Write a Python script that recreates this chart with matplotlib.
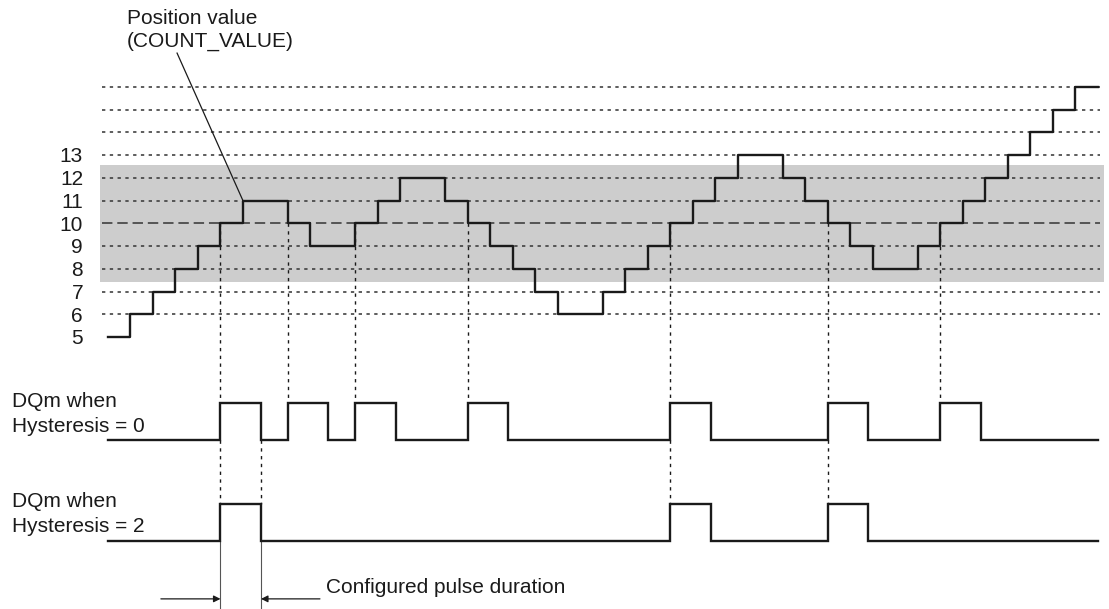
import numpy as np
import matplotlib
matplotlib.use("Agg")
from matplotlib import pyplot as plt

plt.rcParams["font.family"] = ["Liberation Sans", "DejaVu Sans"]
plt.rcParams["lines.scale_dashes"] = False

# position value (COUNT_VALUE) per time step
count_value = [5, 6, 7, 8, 9, 10, 11, 11, 10, 9, 9, 10, 11, 12, 12, 11,
               10, 9, 8, 7, 6, 6, 7, 8, 9, 10, 11, 12, 13, 13, 12, 11,
               10, 9, 8, 8, 9, 10, 11, 12, 13, 14, 15, 16]
level_labels = [5, 6, 7, 8, 9, 10, 11, 12, 13]
grid_levels = list(range(6, 17))
reference_value = 10
hyst_band = (7.45, 12.55)

# DQm pulses (start times) and configured pulse duration
pulses_hyst0 = [5, 8, 11, 16, 25, 32, 37]
pulses_hyst2 = [5, 25, 32]
pulse_duration = 1.8

t_end = len(count_value)
times = np.arange(t_end + 1)

# layout of the two output traces below the counter
dq0_low, dq0_high = 0.48, 2.11
dq2_low, dq2_high = -3.96, -2.33
dim_y = -6.5

fig = plt.figure(figsize=(11.09, 6.09), dpi=100)
ax = fig.add_axes([0, 0, 1, 1])
ax.set_xlim(-4.8, 44.49)
ax.set_ylim(-6.945, 19.824)
ax.axis("off")

ink = "#1a1a1a"
fs = 15
dot = (0, (2.4, 3.2))

# hysteresis band
ax.fill_between([-0.35, 44.25], hyst_band[0], hyst_band[1],
                color="#cdcdcd", lw=0, zorder=0)

# level grid
for lv in grid_levels:
    style = (0, (7.5, 3.5)) if lv == reference_value else dot
    ax.plot([-0.27, 44.1], [lv, lv], color="#3a3a3a", lw=1.15,
            linestyle=style, zorder=1)

for lv in level_labels:
    ax.text(-1.11, lv - 0.31, str(lv), ha="right", va="baseline",
            fontsize=fs, color=ink)

# counter staircase
ax.step(times, count_value + [count_value[-1]], where="post", color=ink,
        lw=1.7, zorder=3)

# comparison instants down to the first output trace
for t in pulses_hyst0:
    ax.plot([t, t], [reference_value, dq0_high], color=ink, lw=1.0,
            linestyle=dot, zorder=2)

# links between the two output traces
for t in pulses_hyst2:
    ax.plot([t, t], [dq0_low, dq2_high], color=ink, lw=1.0,
            linestyle=dot, zorder=2)
t0 = pulses_hyst2[0]
ax.plot([t0 + pulse_duration] * 2, [dq0_low, dq2_high], color=ink, lw=1.0,
        linestyle=dot, zorder=2)


def pulse_trace(starts, low, high):
    xs, ys = [0], [low]
    for s in starts:
        xs += [s, s, s + pulse_duration, s + pulse_duration]
        ys += [low, high, high, low]
    xs.append(t_end)
    ys.append(low)
    return xs, ys


for starts, lo, hi in [(pulses_hyst0, dq0_low, dq0_high),
                       (pulses_hyst2, dq2_low, dq2_high)]:
    xs, ys = pulse_trace(starts, lo, hi)
    ax.plot(xs, ys, color=ink, lw=1.7, solid_joinstyle="miter", zorder=3)

# pulse duration dimension
for t in [t0, t0 + pulse_duration]:
    ax.plot([t, t], [dq2_low, -7.0], color="#555555", lw=0.8, zorder=2)
ax.annotate("", xy=(t0, dim_y), xytext=(t0 - 2.65, dim_y),
            arrowprops=dict(arrowstyle="-|>", color=ink, lw=0.9,
                            mutation_scale=10, shrinkA=0, shrinkB=0))
ax.annotate("", xy=(t0 + pulse_duration, dim_y),
            xytext=(t0 + pulse_duration + 2.62, dim_y),
            arrowprops=dict(arrowstyle="-|>", color=ink, lw=0.9,
                            mutation_scale=10, shrinkA=0, shrinkB=0))
ax.text(9.69, -6.24, "Configured pulse duration", ha="left", va="baseline",
        fontsize=fs, color=ink)

# signal names
for y, label in [(1.93, "DQm when"), (0.835, "Hysteresis = 0"),
                 (-2.46, "DQm when"), (-3.56, "Hysteresis = 2")]:
    ax.text(-4.27, y, label, ha="left", va="baseline", fontsize=fs, color=ink)

# leader to the staircase
ax.text(0.85, 18.77, "Position value", ha="left", va="baseline", fontsize=fs,
        color=ink)
ax.text(0.85, 17.78, "(COUNT_VALUE)", ha="left", va="baseline", fontsize=fs,
        color=ink)
ax.plot([3.07, 6], [17.49, count_value[6]], color=ink, lw=0.9, zorder=3)

fig.savefig("out.png", dpi=100, facecolor="white")
